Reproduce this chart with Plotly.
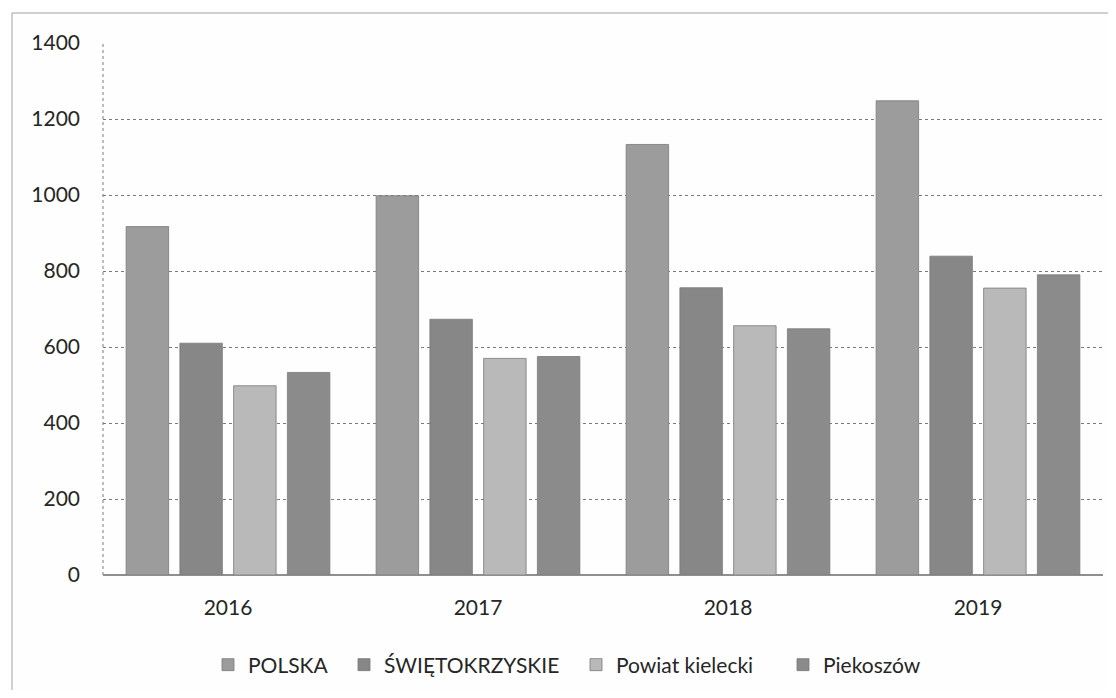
import plotly.graph_objects as go

years = ["2016", "2017", "2018", "2019"]
polska = [917, 998, 1133, 1248]
swietokrzyskie = [610, 673, 756, 839]
powiat_kielecki = [498, 570, 656, 755]
piekoszow = [533, 575, 648, 790]

series_names = ["POLSKA", "ŚWIĘTOKRZYSKIE", "Powiat kielecki", "Piekoszów"]
series_values = [polska, swietokrzyskie, powiat_kielecki, piekoszow]
series_colors = ["#9c9c9c", "#878787", "#b9b9b9", "#8b8b8b"]

y_ticks = [0, 200, 400, 600, 800, 1000, 1200, 1400]

# page body has an 8px margin, so the figure is drawn 8px smaller
OFF = 8
W, H = 1116 - 16, 698 - 16
L = 103 - OFF
T = 43 - OFF
plot_right = 1103 - OFF
plot_bottom = 575 - OFF
R = W - plot_right
B = H - plot_bottom
pw, ph = W - L - R, H - T - B

legend_ids = ["legend", "legend2", "legend3", "legend4"]
legend_marker_x = [228, 364, 596, 803]  # marker centres in the reference page
legend_y = 665

fig = go.Figure()
for name, vals, col, lid in zip(series_names, series_values, series_colors, legend_ids):
    fig.add_trace(go.Bar(
        x=years, y=vals, name=name, legend=lid,
        marker=dict(color=col, line=dict(color="#7a7a7a", width=0.8)),
    ))

legend_layout = {}
for lid, mx in zip(legend_ids, legend_marker_x):
    legend_layout[lid] = dict(
        orientation="h",
        x=(mx - OFF - 20 - L) / pw, xanchor="left",
        y=(plot_bottom - (legend_y - OFF)) / ph, yanchor="middle",
        font=dict(family="Lato", size=21, color="#262626"),
        bgcolor="rgba(0,0,0,0)", borderwidth=0,
    )

fig.update_layout(
    width=W, height=H,
    margin=dict(l=L, r=R, t=T, b=B),
    paper_bgcolor="#fefefe",
    plot_bgcolor="#fefefe",
    barmode="group",
    bargap=0.14,
    bargroupgap=0.21,
    font=dict(family="Lato", size=21, color="#262626"),
    showlegend=True,
    xaxis=dict(
        showgrid=False, ticks="", showline=False,
        ticklabelstandoff=18,
    ),
    yaxis=dict(
        range=[0, 1400], tickvals=y_ticks,
        showgrid=True, gridcolor="#7a7a7a", griddash="dot", gridwidth=1,
        zeroline=True, zerolinecolor="#8f8f8f", zerolinewidth=1.5,
        showline=False,
        ticks="", ticklabelstandoff=22,
    ),
    shapes=[
        dict(
            type="rect", xref="paper", yref="paper",
            x0=(12 - OFF - L) / pw, x1=(1114 - OFF - L) / pw,
            y0=(plot_bottom - (692 - OFF)) / ph, y1=(plot_bottom - (13 - OFF)) / ph,
            line=dict(color="#a0a0a0", width=1),
            fillcolor="rgba(0,0,0,0)", layer="below",
        ),
        dict(
            type="line", xref="paper", yref="paper",
            x0=0, x1=0, y0=0, y1=1,
            line=dict(color="#7a7a7a", width=1, dash="dot"),
            layer="below",
        ),
    ],
    **legend_layout,
)

fig.write_html("out.html")
